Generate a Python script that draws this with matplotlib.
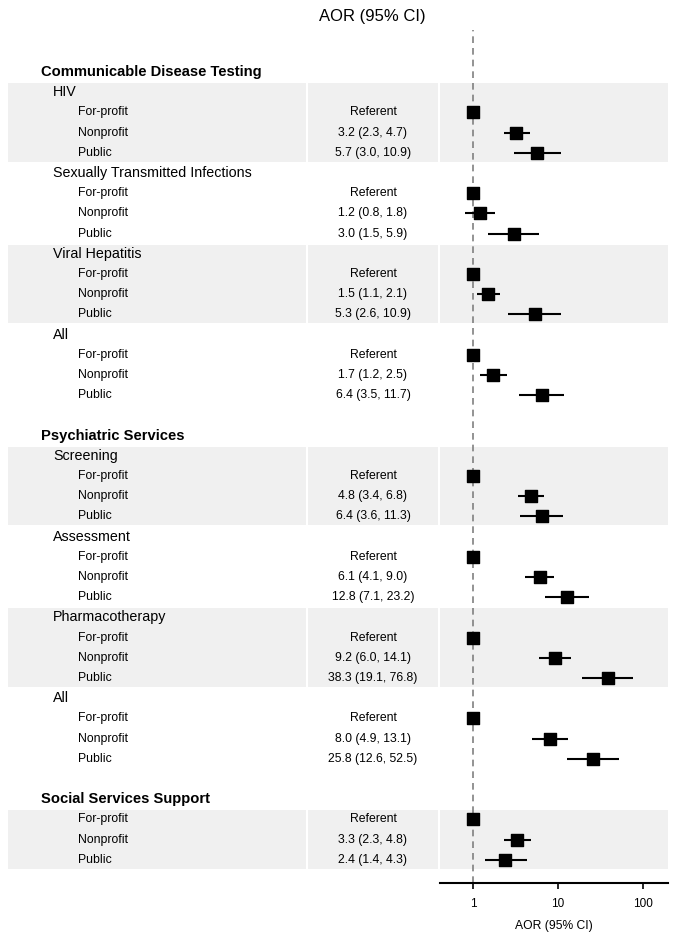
import matplotlib.pyplot as plt
import matplotlib.patches as mpatches
import numpy as np

plt.rcParams['font.family'] = ['Liberation Sans', 'DejaVu Sans']

sections = ['Communicable Disease Testing', 'Psychiatric Services', 'Social Services Support']
subgroups = [
    ['HIV', 'Sexually Transmitted Infections', 'Viral Hepatitis', 'All'],
    ['Screening', 'Assessment', 'Pharmacotherapy', 'All'],
    [None],
]
levels = ['For-profit', 'Nonprofit', 'Public']

# nonprofit / public estimates, in the same order as the subgroups
np_est = [3.2, 1.2, 1.5, 1.7, 4.8, 6.1, 9.2, 8.0, 3.3]
np_lo = [2.3, 0.8, 1.1, 1.2, 3.4, 4.1, 6.0, 4.9, 2.3]
np_hi = [4.7, 1.8, 2.1, 2.5, 6.8, 9.0, 14.1, 13.1, 4.8]
pub_est = [5.7, 3.0, 5.3, 6.4, 6.4, 12.8, 38.3, 25.8, 2.4]
pub_lo = [3.0, 1.5, 2.6, 3.5, 3.6, 7.1, 19.1, 12.6, 1.4]
pub_hi = [10.9, 5.9, 10.9, 11.7, 11.3, 23.2, 76.8, 52.5, 4.3]

xticks = [1, 10, 100]

W, H = 677, 938
y0, dy = 72, 20.2  # pixel row layout


def row_of(py):
    return (py - y0) / dy


fig = plt.figure(figsize=(W / 100, H / 100), dpi=100)

# background / text axes in pixel-x, row-y coords
bg = fig.add_axes([0, 0, 1, 1])
bg.set_xlim(0, W)
bg.set_ylim(row_of(H), row_of(0))
bg.axis('off')

ax = fig.add_axes([440 / W, 1 - 883 / H, 228 / W, (883 - 30) / H])
ax.set_facecolor('none')

shade = '#f0f0f0'
panels = [(8, 306), (308, 438), (440, 668)]

rows_y, ests, los, his = [], [], [], []
r = 0
k = 0
for si, sec in enumerate(sections):
    bg.text(41, r, sec, fontsize=10.6, fontweight='bold', va='center', ha='left')
    r += 1
    for gi, sub in enumerate(subgroups[si]):
        start = r
        if sub is not None:
            bg.text(53, r, sub, fontsize=10.3, va='center', ha='left')
            r += 1
        shaded = (gi % 2 == 0)
        for li, lev in enumerate(levels):
            bg.text(78, r, lev, fontsize=8.8, va='center', ha='left')
            if li == 0:
                txt = 'Referent'
                e, lo, hi = 1.0, 1.0, 1.0
            elif li == 1:
                e, lo, hi = np_est[k], np_lo[k], np_hi[k]
                txt = '%.1f (%.1f, %.1f)' % (e, lo, hi)
            else:
                e, lo, hi = pub_est[k], pub_lo[k], pub_hi[k]
                txt = '%.1f (%.1f, %.1f)' % (e, lo, hi)
            bg.text(373, r, txt, fontsize=8.8, va='center', ha='center')
            rows_y.append(r)
            ests.append(e)
            los.append(lo)
            his.append(hi)
            r += 1
        if shaded:
            for x1, x2 in panels:
                bg.add_patch(mpatches.Rectangle((x1, start - 0.45), x2 - x1, r - start - 0.1,
                                                facecolor=shade, edgecolor='none', zorder=0))
        k += 1
    r += 1

bg.text(372, row_of(17), 'AOR (95% CI)', fontsize=12, va='center', ha='center')

# forest plot
rows_y = np.array(rows_y)
ests = np.array(ests)
ax.hlines(rows_y, los, his, color='black', lw=1.5, zorder=3)
ax.scatter(ests, rows_y, marker='s', s=80, color='black', zorder=4)
ax.axvline(1, color='#808080', ls=(0, (4, 3)), lw=1.2, zorder=1)

ax.set_xscale('log')
ax.set_xlim(10 ** -0.388, 10 ** 2.294)
ax.set_ylim(row_of(883), row_of(30))
ax.set_xticks(xticks)
ax.set_xticklabels([str(t) for t in xticks], fontsize=8.5)
ax.minorticks_off()
ax.set_yticks([])
for s in ['left', 'right', 'top']:
    ax.spines[s].set_visible(False)
ax.spines['bottom'].set_linewidth(1.5)
ax.tick_params(axis='x', length=4, width=1.2, pad=7)
ax.set_xlabel('AOR (95% CI)', fontsize=8.7, labelpad=7)

fig.savefig('out.png', dpi=100)
